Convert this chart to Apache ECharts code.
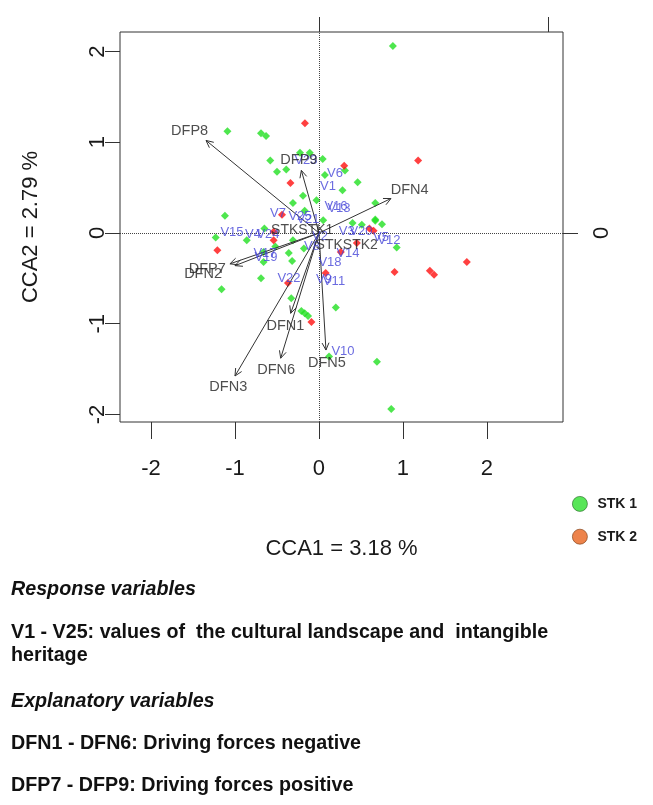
<!DOCTYPE html>
<html>
<head>
<meta charset="utf-8">
<script src="https://cdn.jsdelivr.net/npm/echarts@6.0.0/dist/echarts.min.js"></script>
<style>html,body{margin:0;padding:0;background:#fff;}#c{width:653px;height:805px;}</style>
</head>
<body>
<div id="c"></div>
<script>
// ---------- data ----------
const xTicks = [-2, -1, 0, 1, 2];
const yTicks = [-2, -1, 0, 1, 2];
const xTitle = 'CCA1 = 3.18 %';
const yTitle = 'CCA2 = 2.79 %';
const groupNames = ['STK 1', 'STK 2'];

const stk1Points = [
  [-1.09,1.12],[-0.69,1.10],[-0.63,1.07],[-0.226,0.885],[-0.11,0.885],[0.044,0.815],[-0.58,0.80],
  [-0.39,0.70],[-0.50,0.675],[0.07,0.64],[-0.19,0.41],[-0.31,0.33],[-0.03,0.36],[-1.12,0.19],
  [0.88,2.06],[0.31,0.69],[0.46,0.56],[0.28,0.47],[0.67,0.33],[0.67,0.15],
  [-1.23,-0.05],[-0.86,-0.08],[-0.65,0.05],[-0.31,-0.08],[-0.18,-0.17],[-0.66,-0.32],[-0.36,-0.22],
  [-0.32,-0.31],[-0.69,-0.50],[-1.16,-0.62],[-0.33,-0.72],[-0.21,-0.86],[-0.17,-0.885],[-0.13,-0.915],
  [0.12,-1.36],[0.40,0.11],[0.51,0.09],[0.67,0.135],[0.75,0.095],[0.925,-0.16],[0.20,-0.82],
  [0.69,-1.42],[0.86,-1.94],[-0.17,0.245],[0.05,0.14],[-0.66,-0.21],[-0.52,-0.15]
];
const stk2Points = [
  [-0.167,1.21],[-0.34,0.55],[-0.44,0.20],[1.18,0.80],[0.30,0.74],[-0.54,0.015],[-0.54,-0.08],
  [-1.21,-0.19],[-0.37,-0.55],[-0.09,-0.98],[0.08,-0.44],[0.60,0.05],[0.65,0.025],[0.45,-0.11],
  [0.26,-0.21],[0.90,-0.43],[1.32,-0.415],[1.37,-0.46],[1.76,-0.32]
];

const arrowNames = ['DFP8','DFP9','DFN4','DFP7','DFN2','DFN1','DFN6','DFN3','DFN5'];
const arrowTips = [[-1.345,1.02],[-0.21,0.69],[0.857,0.38],[-1.06,-0.34],[-1.0,-0.36],
                   [-0.337,-0.885],[-0.456,-1.38],[-1.0,-1.576],[0.083,-1.29]];
const arrowLabelPos = [[-1.54,1.12],[-0.24,0.80],[1.08,0.47],[-1.33,-0.40],[-1.38,-0.45],
                       [-0.40,-1.02],[-0.51,-1.51],[-1.08,-1.70],[0.095,-1.43]];

const speciesNames = ['V1','V2','V3','V4','V5','V6','V7','V8','V9','V10','V11','V12','V13',
                      'V14','V15','V16','V17','V18','V19','V20','V21','V22','V23','V24','V25'];
const speciesPos = [[0.107,0.518],[0.012,-0.033],[0.33,0.022],[-0.786,-0.011],[0.738,-0.044],
  [0.19,0.661],[-0.488,0.22],[-0.083,-0.143],[0.06,-0.507],[0.286,-1.30],[0.179,-0.529],
  [0.833,-0.077],[0.238,0.275],[0.345,-0.22],[-1.036,0.011],[0.202,0.298],[-0.643,-0.22],
  [0.131,-0.32],[-0.631,-0.264],[0.5,0.022],[-0.131,0.154],[-0.357,-0.496],[-0.155,0.804],
  [-0.607,-0.011],[-0.226,0.187]];

const centroidNames = ['STKSTK1','STKSTK2'];
const centroidPos = [[-0.20,0.03],[0.33,-0.13]];

const noteLines = [
  ['Response variables', true],
  ['V1 - V25: values of  the cultural landscape and  intangible', false],
  ['heritage', false],
  ['Explanatory variables', true],
  ['DFN1 - DFN6: Driving forces negative', false],
  ['DFP7 - DFP9: Driving forces positive', false]
];
const noteY = [591, 634, 657, 703, 745, 787];

// ---------- chart ----------
const FONT = "'Liberation Sans', Arial, sans-serif";
const chart = echarts.init(document.getElementById('c'), null, {renderer: 'canvas'});

function textSeries(names, pos, color, size, z) {
  return {
    type: 'scatter', xAxisIndex: 0, yAxisIndex: 0, symbolSize: 0, silent: true, z: z,
    data: names.map((n, i) => ({name: n, value: pos[i]})),
    label: {show: true, position: 'inside', formatter: '{b}', color: color,
            fontSize: size, fontFamily: FONT}
  };
}

const tickStyle = {color: '#333', width: 1};
const option = {
  animation: false,
  backgroundColor: '#fff',
  grid: {left: 120, right: 90, top: 32, bottom: 383, show: true, borderColor: '#333', borderWidth: 1},
  xAxis: [{
    type: 'value', min: -2.369, max: 2.905, position: 'bottom',
    name: xTitle, nameLocation: 'middle', nameGap: 116,
    nameTextStyle: {fontSize: 22, color: '#1a1a1a', fontFamily: FONT},
    splitLine: {show: false}, axisLine: {show: false, onZero: false},
    axisTick: {show: true, inside: false, length: 17, lineStyle: tickStyle, customValues: xTicks},
    axisLabel: {fontSize: 22, color: '#1a1a1a', fontFamily: FONT, margin: 36, customValues: xTicks}
  }, {
    type: 'value', min: -0.869, max: 1.066, position: 'top',
    splitLine: {show: false}, axisLine: {show: false, onZero: false},
    axisTick: {show: true, inside: false, length: 15, lineStyle: tickStyle, customValues: [0, 1]},
    axisLabel: {show: false}
  }],
  yAxis: [{
    type: 'value', min: -2.083, max: 2.215, position: 'left',
    name: yTitle, nameLocation: 'middle', nameGap: 78,
    nameTextStyle: {fontSize: 22, color: '#1a1a1a', fontFamily: FONT},
    splitLine: {show: false}, axisLine: {show: false, onZero: false},
    axisTick: {show: true, inside: false, length: 15, lineStyle: tickStyle, customValues: yTicks},
    axisLabel: {fontSize: 22, color: '#1a1a1a', fontFamily: FONT, margin: 11, rotate: 90, customValues: yTicks}
  }, {
    type: 'value', min: -2.083, max: 2.215, position: 'right',
    splitLine: {show: false}, axisLine: {show: false, onZero: false},
    axisTick: {show: true, inside: false, length: 15, lineStyle: tickStyle, customValues: [0]},
    axisLabel: {fontSize: 22, color: '#1a1a1a', fontFamily: FONT, margin: 28, rotate: 90, customValues: [0]}
  }],
  legend: {
    orient: 'vertical', left: 567, top: 491, itemGap: 17, itemWidth: 15, itemHeight: 15, icon: 'circle',
    textStyle: {fontSize: 14, fontWeight: 'bold', color: '#1a1a1a', fontFamily: FONT, padding: [0, 0, 0, 5]},
    data: [
      {name: groupNames[0], itemStyle: {color: '#2EE02E', borderColor: '#2a6a2a', borderWidth: 0.8}},
      {name: groupNames[1], itemStyle: {color: '#E8641E', borderColor: '#7a3a10', borderWidth: 0.8}}
    ]
  },
  series: [
    {
      type: 'scatter', name: groupNames[0], data: stk1Points, symbol: 'diamond', symbolSize: 8,
      itemStyle: {color: '#22E022'}, z: 3,
      markLine: {
        silent: true, symbol: 'none', label: {show: false},
        lineStyle: {type: 'dotted', color: '#444', width: 1},
        data: [{xAxis: 0}, {yAxis: 0}]
      }
    },
    {
      type: 'scatter', name: groupNames[1], data: stk2Points, symbol: 'diamond', symbolSize: 8,
      itemStyle: {color: '#FF1010'}, z: 3
    },
    {
      type: 'custom', name: 'arrows', silent: true, z: 4,
      data: arrowTips,
      renderItem: function (params, api) {
        const p0 = api.coord([0, 0]);
        const p1 = api.coord([api.value(0), api.value(1)]);
        const ang = Math.atan2(p1[1] - p0[1], p1[0] - p0[0]);
        const L = 8, a = Math.PI / 7;
        const h1 = [p1[0] - L * Math.cos(ang - a), p1[1] - L * Math.sin(ang - a)];
        const h2 = [p1[0] - L * Math.cos(ang + a), p1[1] - L * Math.sin(ang + a)];
        const st = {stroke: '#333', lineWidth: 1, fill: null};
        return {type: 'group', children: [
          {type: 'line', shape: {x1: p0[0], y1: p0[1], x2: p1[0], y2: p1[1]}, style: st},
          {type: 'polyline', shape: {points: [h1, p1, h2]}, style: st}
        ]};
      }
    },
    textSeries(speciesNames, speciesPos, '#4646D8', 13, 5),
    textSeries(arrowNames, arrowLabelPos, '#222', 14.5, 6),
    textSeries(centroidNames, centroidPos, '#222', 14, 6)
  ],
  graphic: noteLines.map((ln, i) => ({
    type: 'text', left: 11, top: noteY[i] - 11, silent: true,
    style: {text: ln[0], fill: '#111',
            font: (ln[1] ? 'italic ' : '') + 'bold 19.7px ' + FONT}
  }))
};
chart.setOption(option);
</script>
</body>
</html>
